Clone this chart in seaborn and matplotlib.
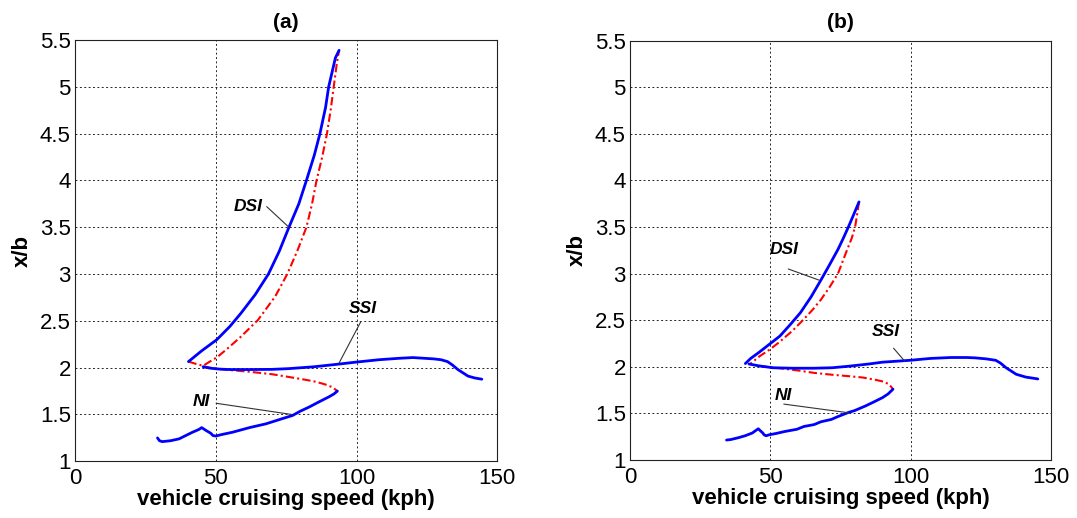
import matplotlib
matplotlib.use("Agg")
import matplotlib.pyplot as plt
import seaborn as sns
import pandas as pd

# ---------------- data: panel (a) ----------------
a_dsi_stable_x = [40.3, 45, 50.4, 55, 58.9, 64, 68.7, 72.5, 76.0, 79.5, 82.2, 85, 87.0, 89, 90.1, 91.5, 92.5, 93.8]
a_dsi_stable_y = [2.065, 2.18, 2.30, 2.44, 2.58, 2.78, 3.0, 3.24, 3.50, 3.75, 4.0, 4.27, 4.5, 4.78, 5.0, 5.18, 5.31, 5.39]
a_dsi_unstable_x = [40.3, 43, 45.5, 47.9, 50.4, 54, 58.9, 65, 71.1, 75.4, 79, 82.2, 84.2, 85.8, 87.8, 89.5, 90.8, 91.9, 93, 93.8]
a_dsi_unstable_y = [2.065, 2.04, 2.02, 2.065, 2.11, 2.2, 2.33, 2.51, 2.76, 3.0, 3.25, 3.5, 3.75, 4.0, 4.25, 4.5, 4.75, 5.0, 5.25, 5.39]
a_ssi_x = [45.5, 48, 51.2, 55, 61.8, 70, 76, 85, 92.7, 100, 108, 115, 120, 127.4, 130, 132.3, 134, 136, 139.6, 142, 144.5]
a_ssi_y = [2.01, 1.995, 1.985, 1.98, 1.98, 1.982, 1.99, 2.01, 2.035, 2.06, 2.085, 2.10, 2.108, 2.094, 2.085, 2.065, 2.03, 1.98, 1.91, 1.89, 1.877]
a_ni_unstable_x = [45.5, 50, 55, 61.8, 70, 76.1, 82, 85.5, 89, 91.5, 93.2]
a_ni_unstable_y = [2.01, 1.99, 1.975, 1.957, 1.93, 1.90, 1.87, 1.85, 1.82, 1.79, 1.75]
a_ni_stable_x = [93.2, 92, 90.3, 87, 83.2, 80, 77.3, 72, 67.8, 62, 55.9, 52, 50, 49, 48.2, 46.5, 45, 44, 41.7, 39, 37, 34, 31, 30, 29.3]
a_ni_stable_y = [1.75, 1.72, 1.69, 1.64, 1.58, 1.535, 1.49, 1.44, 1.40, 1.36, 1.31, 1.285, 1.27, 1.275, 1.30, 1.33, 1.36, 1.34, 1.31, 1.27, 1.24, 1.22, 1.21, 1.22, 1.25]

# ---------------- data: panel (b) ----------------
b_dsi_stable_x = [41.1, 43, 46, 50, 53.4, 57, 60.7, 64.5, 68, 71, 74.1, 76, 77.8, 79.5, 81.6]
b_dsi_stable_y = [2.035, 2.09, 2.156, 2.25, 2.33, 2.45, 2.58, 2.75, 2.93, 3.09, 3.26, 3.38, 3.5, 3.62, 3.77]
b_dsi_unstable_x = [81.6, 81, 80.2, 79, 77.8, 76, 74.1, 71, 68, 65, 61.9, 58, 53.4, 50, 46, 44, 43]
b_dsi_unstable_y = [3.77, 3.65, 3.5, 3.38, 3.29, 3.15, 3.0, 2.85, 2.72, 2.61, 2.51, 2.39, 2.27, 2.19, 2.11, 2.06, 2.035]
b_ssi_x = [42.4, 46, 50.9, 58, 65.6, 72, 77.8, 85, 90, 99.8, 107, 114.4, 120, 123, 127, 130.3, 132, 134, 137.6, 141, 145.3]
b_ssi_y = [2.03, 2.01, 1.99, 1.985, 1.985, 1.99, 2.006, 2.03, 2.05, 2.07, 2.09, 2.10, 2.10, 2.096, 2.085, 2.07, 2.04, 1.99, 1.92, 1.89, 1.87]
b_ni_unstable_x = [46, 50.9, 53.4, 60, 65.6, 72, 77.8, 83, 87.5, 90.5, 92.4, 93.7]
b_ni_unstable_y = [2.01, 1.99, 1.985, 1.96, 1.935, 1.915, 1.90, 1.885, 1.86, 1.84, 1.81, 1.76]
b_ni_stable_x = [93.7, 92, 90, 87, 83.9, 80, 77.8, 74, 71.7, 68, 65.6, 62, 59.5, 55, 52.1, 49.5, 48.5, 47.8, 47.3, 45.7, 44.5, 43.6, 41, 38.7, 36, 34.4]
b_ni_stable_y = [1.76, 1.71, 1.67, 1.625, 1.58, 1.53, 1.51, 1.465, 1.435, 1.41, 1.38, 1.36, 1.33, 1.305, 1.285, 1.27, 1.26, 1.27, 1.29, 1.335, 1.31, 1.29, 1.26, 1.24, 1.22, 1.214]

x_ticks = [0, 50, 100, 150]
y_ticks = [1, 1.5, 2, 2.5, 3, 3.5, 4, 4.5, 5, 5.5]
y_tick_labels = ["1", "1.5", "2", "2.5", "3", "3.5", "4", "4.5", "5", "5.5"]
panel_titles = ["(a)", "(b)"]
x_label = "vehicle cruising speed (kph)"
y_label = "x/b"

# annotation: label text, label position, leader line start, leader line end
a_notes = [("DSI", (61.6, 3.72), (68.1, 3.72), (76.0, 3.50)),
           ("SSI", (102.3, 2.63), (101.5, 2.49), (93.8, 2.05)),
           ("NI", (44.9, 1.64), (50.1, 1.62), (77.0, 1.50))]
b_notes = [("DSI", (54.9, 3.26), (56.4, 3.05), (67.4, 2.93)),
           ("SSI", (91.2, 2.38), (93.9, 2.20), (97.9, 2.06)),
           ("NI", (54.8, 1.69), (54.8, 1.60), (77.8, 1.507))]

sns.set_theme(style="white")
plt.rcParams['font.family'] = ['Liberation Sans', 'DejaVu Sans']

fig = plt.figure(figsize=(10.77, 5.18), dpi=100)
ax_a = fig.add_axes([75 / 1077, 1 - 461.3 / 518, 422.3 / 1077, 421.3 / 518])
ax_b = fig.add_axes([630 / 1077, 1 - 460 / 518, 421 / 1077, 419.3 / 518])

panels = [
    (ax_a, [(a_dsi_unstable_x, a_dsi_unstable_y), (a_ni_unstable_x, a_ni_unstable_y)],
     [(a_dsi_stable_x, a_dsi_stable_y), (a_ssi_x, a_ssi_y), (a_ni_stable_x, a_ni_stable_y)], a_notes),
    (ax_b, [(b_dsi_unstable_x, b_dsi_unstable_y), (b_ni_unstable_x, b_ni_unstable_y)],
     [(b_dsi_stable_x, b_dsi_stable_y), (b_ssi_x, b_ssi_y), (b_ni_stable_x, b_ni_stable_y)], b_notes),
]

for i, (ax, unstable, stable, notes) in enumerate(panels):
    ax.set_facecolor("white")
    for xs, ys in unstable:
        df = pd.DataFrame({"x": xs, "y": ys})
        sns.lineplot(data=df, x="x", y="y", ax=ax, sort=False, estimator=None,
                     color="#ff0000", lw=1.5, linestyle=(0, (4, 1.5, 1, 1.5)), zorder=3)
    for xs, ys in stable:
        df = pd.DataFrame({"x": xs, "y": ys})
        sns.lineplot(data=df, x="x", y="y", ax=ax, sort=False, estimator=None,
                     color="#0000ff", lw=2.0, zorder=4)
    for txt, pos, p0, p1 in notes:
        ax.annotate("", xy=p1, xytext=p0,
                    arrowprops=dict(arrowstyle="-", lw=0.8, color="#333333",
                                    shrinkA=0, shrinkB=0), zorder=5)
        ax.text(pos[0], pos[1], txt, ha="center", va="center", fontsize=12.5,
                fontweight="bold", fontstyle="italic", color="black", zorder=6)
    ax.set_xlim(0, 150)
    ax.set_ylim(1, 5.5)
    ax.set_xticks(x_ticks)
    ax.set_xticklabels([str(t) for t in x_ticks])
    ax.set_yticks(y_ticks)
    ax.set_yticklabels(y_tick_labels)
    ax.tick_params(axis="both", labelsize=16, colors="black", direction="in",
                   length=4, width=0.8)
    ax.tick_params(axis="y", pad=3)
    ax.tick_params(axis="x", pad=5)
    ax.grid(True, color="black", linestyle=(0, (2, 2.5)), lw=0.7, alpha=0.85)
    for sp in ax.spines.values():
        sp.set_visible(True)
        sp.set_color("#222222")
        sp.set_linewidth(0.8)
    ax.set_xlabel(x_label, fontsize=16, fontweight="bold", color="black", labelpad=0)
    ax.set_ylabel(y_label, fontsize=16, fontweight="bold", color="black", labelpad=5)
    ax.set_title(panel_titles[i], fontsize=15, fontweight="bold", color="black", pad=9)

fig.savefig("out.png", dpi=100)
